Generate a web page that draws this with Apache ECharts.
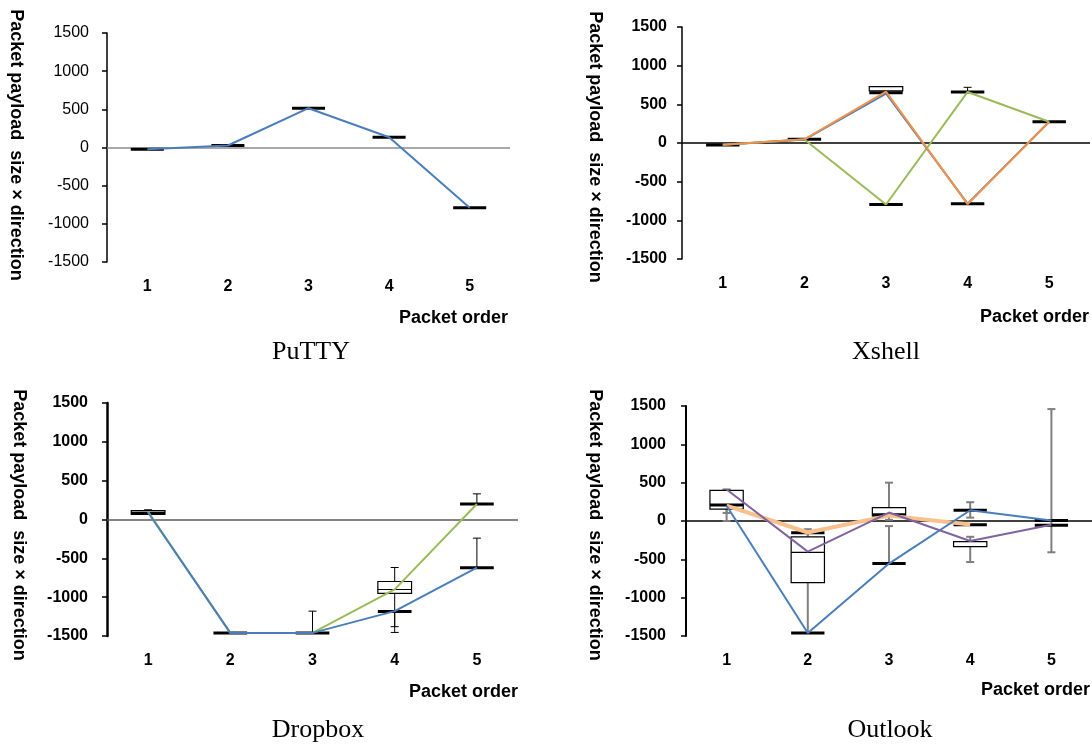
<!DOCTYPE html>
<html>
<head>
<meta charset="utf-8">
<script src="https://cdn.jsdelivr.net/npm/echarts@6/dist/echarts.min.js"></script>
<style>
html, body { margin: 0; padding: 0; background: #ffffff; }
#chart { width: 1092px; height: 747px; }
</style>
</head>
<body>
<div id="chart"></div>
<script>
const packetOrder = ["1", "2", "3", "4", "5"];
const yTicks = { min: -1500, max: 1500, interval: 500 };

// PuTTY
const puttyBlue = [-22, 26, 515, 135, -788];
const puttyBars = [[0, -22], [1, 26], [2, 515], [3, 135], [4, -788]];

// Xshell
const xshellBlue = [-22, 45, 640, -785, 275];
const xshellGreen = [-22, 45, -795, 660, 275];
const xshellOrange = [-22, 48, 665, -790, 275];
const xshellBars = [[0, -26], [1, 50], [2, 650], [2, -795], [3, 660], [3, -785], [4, 275]];
const xshellBoxes = [[2, 675, null, 730]];
const xshellWhiskers = [[2, 650, 730], [3, 660, 720]];

// Dropbox
const dropboxBlue = [90, -1460, -1460, -1180, -620];
const dropboxGreen = [100, -1460, -1460, -900, 200];
const dropboxBars = [[0, 80], [1, -1460], [2, -1460], [3, -1184], [4, 200], [4, -620]];
const dropboxBoxes = [[0, 65, null, 115], [3, -952, -901, -798]];
const dropboxWhiskers = [[0, 80, 125], [2, -1460, -1180], [3, -1380, -618], [3, -1454, -1184], [4, 200, 330], [4, -620, -240]];

// Outlook
const outlookBlue = [200, -1460, -555, 140, 5];
const outlookOrange = [200, -150, 70, -45, null];
const outlookPurple = [410, -400, 110, -260, -50];
const outlookBars = [[0, 210], [1, -153], [1, -1460], [2, 80], [2, -555], [3, 140], [3, -48], [4, 5], [4, -57]];
const outlookBoxes = [[0, 155, null, 400], [1, -803, -408, -206], [2, 65, null, 175], [3, -333, null, -268]];
const outlookWhiskers = [[0, 0, 276], [0, 105, 412], [1, -1460, -107], [1, -263, -150], [2, 15, 500], [2, -555, -66], [3, 44, 245], [3, -535, -206], [4, -408, 1460]];

const BLUE = "#4a7ebb";
const GREEN = "#9bbb59";
const ORANGE = "#f39146";
const PURPLE = "#8064a2";

const chart = echarts.init(document.getElementById("chart"), null, { renderer: "canvas" });

const grids = [
    { left: 107, top: 33, width: 403, height: 229 },
    { left: 682, top: 27, width: 408, height: 232 },
    { left: 107, top: 403, width: 411, height: 233 },
    { left: 686, top: 406, width: 406, height: 230 },
];

const axisStyle = [
    { lineWidth: 1.5, labelBold: "normal", labelMargin: 18, zero: "#8c8c8c" },
    { lineWidth: 1.5, labelBold: "bold", labelMargin: 15, zero: "#000000" },
    { lineWidth: 2.5, labelBold: "bold", labelMargin: 19, zero: "#5a5a5a" },
    { lineWidth: 2, labelBold: "bold", labelMargin: 20, zero: "#000000" },
];

function boxWidth(api) {
    return api.size([1, 0])[0] * 0.41;
}

// thick horizontal marks
function barSeries(gi, data) {
    return {
        type: "custom",
        xAxisIndex: gi,
        yAxisIndex: gi,
        z: 2,
        silent: true,
        data: data,
        renderItem: function (params, api) {
            const c = api.coord([api.value(0), api.value(1)]);
            const w = boxWidth(api);
            return {
                type: "line",
                shape: { x1: c[0] - w / 2, y1: c[1], x2: c[0] + w / 2, y2: c[1] },
                style: { stroke: "#000", lineWidth: 3 },
            };
        },
    };
}

function boxSeries(gi, data) {
    return {
        type: "custom",
        xAxisIndex: gi,
        yAxisIndex: gi,
        z: 2,
        silent: true,
        data: data.map((d) => [d[0], d[1], d[2] === null ? 0 : d[2], d[3]]),
        renderItem: function (params, api) {
            const src = data[params.dataIndex];
            const x = api.value(0);
            const top = api.coord([x, api.value(3)]);
            const bot = api.coord([x, api.value(1)]);
            const w = boxWidth(api);
            const children = [
                {
                    type: "rect",
                    shape: { x: top[0] - w / 2, y: top[1], width: w, height: bot[1] - top[1] },
                    style: { fill: "#fff", stroke: "#000", lineWidth: 1.2 },
                },
            ];
            if (src[2] !== null) {
                const m = api.coord([x, api.value(2)]);
                children.push({
                    type: "line",
                    shape: { x1: m[0] - w / 2, y1: m[1], x2: m[0] + w / 2, y2: m[1] },
                    style: { stroke: "#000", lineWidth: 1.2 },
                });
            }
            return { type: "group", children: children };
        },
    };
}

function whiskerSeries(gi, data, color, width) {
    return {
        type: "custom",
        xAxisIndex: gi,
        yAxisIndex: gi,
        z: 1,
        silent: true,
        data: data,
        renderItem: function (params, api) {
            const x = api.value(0);
            const lo = api.coord([x, api.value(1)]);
            const hi = api.coord([x, api.value(2)]);
            const cap = 4;
            const st = { stroke: color, lineWidth: width };
            return {
                type: "group",
                children: [
                    { type: "line", shape: { x1: lo[0], y1: lo[1], x2: hi[0], y2: hi[1] }, style: st },
                    { type: "line", shape: { x1: lo[0] - cap, y1: lo[1], x2: lo[0] + cap, y2: lo[1] }, style: st },
                    { type: "line", shape: { x1: hi[0] - cap, y1: hi[1], x2: hi[0] + cap, y2: hi[1] }, style: st },
                ],
            };
        },
    };
}

function lineSeries(gi, data, color, width, zero) {
    const s = {
        type: "line",
        xAxisIndex: gi,
        yAxisIndex: gi,
        z: 3,
        data: data,
        symbol: "none",
        silent: true,
        lineStyle: { color: color, width: width || 2 },
    };
    if (zero) {
        s.markLine = {
            silent: true,
            symbol: "none",
            label: { show: false },
            lineStyle: { color: zero, width: 1.5, type: "solid" },
            data: [{ yAxis: 0 }],
            z: 1,
        };
    }
    return s;
}

const xAxes = grids.map((g, i) => ({
    type: "category",
    gridIndex: i,
    data: packetOrder,
    boundaryGap: true,
    axisLine: { show: false },
    axisTick: { show: false },
    splitLine: { show: false },
    axisLabel: {
        fontFamily: "Liberation Sans, Arial, sans-serif",
        fontSize: 16,
        fontWeight: "bold",
        color: "#000",
        margin: 17,
    },
}));

const yAxes = grids.map((g, i) => ({
    type: "value",
    gridIndex: i,
    min: yTicks.min,
    max: yTicks.max,
    interval: yTicks.interval,
    axisLine: { show: true, lineStyle: { color: "#000", width: axisStyle[i].lineWidth } },
    axisTick: { show: true, inside: false, length: 5, lineStyle: { color: "#000", width: 1.5 } },
    splitLine: { show: false },
    axisLabel: {
        fontFamily: "Liberation Sans, Arial, sans-serif",
        fontSize: 16,
        fontWeight: axisStyle[i].labelBold,
        color: "#000",
        margin: axisStyle[i].labelMargin,
        formatter: (v) => String(v),
    },
}));

const series = [
    // PuTTY
    barSeries(0, puttyBars),
    lineSeries(0, puttyBlue, BLUE, 2, axisStyle[0].zero),
    // Xshell
    whiskerSeries(1, xshellWhiskers, "#000", 1),
    boxSeries(1, xshellBoxes),
    barSeries(1, xshellBars),
    lineSeries(1, xshellGreen, GREEN, 2, axisStyle[1].zero),
    lineSeries(1, xshellBlue, BLUE, 2),
    lineSeries(1, xshellOrange, ORANGE, 2),
    // Dropbox
    whiskerSeries(2, dropboxWhiskers, "#000", 1),
    boxSeries(2, dropboxBoxes),
    barSeries(2, dropboxBars),
    lineSeries(2, dropboxGreen, GREEN, 2, axisStyle[2].zero),
    lineSeries(2, dropboxBlue, BLUE, 2),
    // Outlook
    whiskerSeries(3, outlookWhiskers, "#7f7f7f", 2),
    boxSeries(3, outlookBoxes),
    barSeries(3, outlookBars),
    lineSeries(3, outlookOrange, "#f9c08c", 4, axisStyle[3].zero),
    lineSeries(3, outlookBlue, BLUE, 2),
    lineSeries(3, outlookPurple, PURPLE, 2),
];

const yTitle = "Packet payload  size \u00d7 direction";
const sansBold = "bold 18px 'Liberation Sans', Arial, sans-serif";
const serif = "26px 'Liberation Serif', 'Times New Roman', serif";

function txt(text, x, y, font, align, rot) {
    return {
        type: "text",
        x: x,
        y: y,
        rotation: rot || 0,
        silent: true,
        style: {
            text: text,
            font: font,
            fill: "#000",
            align: align,
            verticalAlign: "middle",
            textAlign: align,
            textVerticalAlign: "middle",
        },
    };
}

const graphics = [
    txt(yTitle, 16, 145, sansBold, "center", -Math.PI / 2),
    txt(yTitle, 595, 147, sansBold, "center", -Math.PI / 2),
    txt(yTitle, 19, 525, sansBold, "center", -Math.PI / 2),
    txt(yTitle, 595, 525, sansBold, "center", -Math.PI / 2),
    txt("Packet order", 508, 318, sansBold, "right"),
    txt("Packet order", 1089, 317, sansBold, "right"),
    txt("Packet order", 518, 692, sansBold, "right"),
    txt("Packet order", 1090, 690, sansBold, "right"),
    txt("PuTTY", 311, 352, serif, "center"),
    txt("Xshell", 886, 352, serif, "center"),
    txt("Dropbox", 318, 730, serif, "center"),
    txt("Outlook", 890, 730, serif, "center"),
];

chart.setOption({
    animation: false,
    backgroundColor: "#ffffff",
    grid: grids.map((g) => Object.assign({ outerBoundsMode: "none" }, g)),
    xAxis: xAxes,
    yAxis: yAxes,
    series: series,
    graphic: { elements: graphics },
});
</script>
</body>
</html>
